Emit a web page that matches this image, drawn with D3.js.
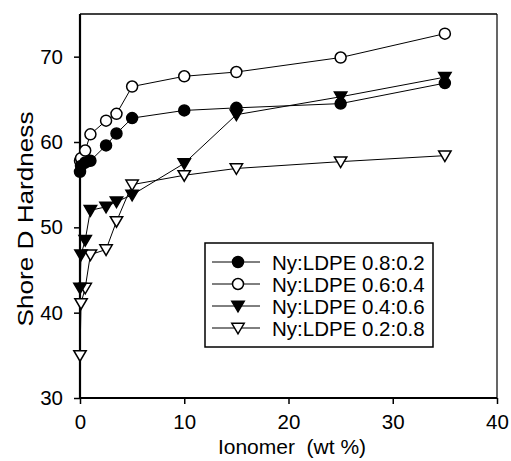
<!DOCTYPE html>
<html><head><meta charset="utf-8">
<script src="https://cdn.jsdelivr.net/npm/d3@7"></script>
<style>body{margin:0;background:#fff}svg{display:block}text{font-family:"Liberation Sans",Arial,sans-serif;fill:#000}</style>
</head><body><svg id="c" width="511" height="461"></svg>
<script>
const xVals = [0, 0.1, 0.5, 1, 2.5, 3.5, 5, 10, 15, 25, 35];
const s08 = [56.5, 57.2, 57.6, 57.8, 59.6, 61.0, 62.8, 63.7, 64.0, 64.5, 66.9];
const s06 = [57.8, 58.1, 59.0, 60.9, 62.5, 63.3, 66.5, 67.7, 68.2, 69.9, 72.7];
const s04 = [42.9, 46.8, 48.5, 52.0, 52.4, 53.0, 53.8, 57.5, 63.2, 65.3, 67.6];
const s02 = [35.0, 41.1, 42.9, 46.8, 47.4, 50.7, 55.0, 56.1, 56.9, 57.7, 58.4];
const seriesNames = ["Ny:LDPE 0.8:0.2", "Ny:LDPE 0.6:0.4", "Ny:LDPE 0.4:0.6", "Ny:LDPE 0.2:0.8"];
const markerTypes = ["circleFilled", "circleOpen", "triDownFilled", "triDownOpen"];
const xTicks = [0, 10, 20, 30, 40];
const yTicks = [30, 40, 50, 60, 70];

const svg = d3.select("#c");
const x = d3.scaleLinear().domain([0, 40]).range([80, 497]);
const y = d3.scaleLinear().domain([30, 75]).range([398, 14]);

// frame
svg.append("line").attr("x1", 80).attr("x2", 497).attr("y1", 14).attr("y2", 14).attr("stroke", "#000").attr("stroke-width", 1.5);
svg.append("line").attr("x1", 497).attr("x2", 497).attr("y1", 14).attr("y2", 398).attr("stroke", "#000").attr("stroke-width", 1.2);

const xa = svg.append("g").attr("transform", "translate(0,398)")
  .call(d3.axisBottom(x).tickValues(xTicks).tickSize(6).tickPadding(10));
const ya = svg.append("g").attr("transform", "translate(80,0)")
  .call(d3.axisLeft(y).tickValues(yTicks).tickSize(6).tickPadding(11));
[xa, ya].forEach(a => {
  a.select(".domain").attr("stroke-width", 2.2);
  a.selectAll(".tick line").attr("stroke-width", 1.5);
  a.selectAll("text").style("font-size", "20.5px").style("font-family", "Liberation Sans, Arial, sans-serif");
});
ya.select(".domain").attr("d", "M0,398V14");
xa.select(".domain").attr("d", "M80,0H497");

svg.append("text").attr("x", 292).attr("y", 454).attr("text-anchor", "middle")
  .style("font-size", "21px").attr("xml:space", "preserve").text("Ionomer  (wt %)");
svg.append("text").attr("transform", "translate(33,219) rotate(-90)").attr("text-anchor", "middle")
  .style("font-size", "21.5px").attr("textLength", 215).attr("lengthAdjust", "spacingAndGlyphs")
  .text("Shore D Hardness");

const allSeries = [s08, s06, s04, s02];
const line = d3.line().x(d => x(d[0])).y(d => y(d[1]));

function marker(g, type, cx, cy) {
  if (type.startsWith("circle")) {
    g.append("circle").attr("cx", cx).attr("cy", cy).attr("r", 5.5)
      .attr("fill", type === "circleFilled" ? "#000" : "#fff").attr("stroke", "#000").attr("stroke-width", 1.5);
  } else {
    const s = 6.2;
    g.append("path").attr("d", `M${cx - s},${cy - s * 0.75}L${cx + s},${cy - s * 0.75}L${cx},${cy + s * 0.95}Z`)
      .attr("fill", type === "triDownFilled" ? "#000" : "#fff").attr("stroke", "#000").attr("stroke-width", 1.5);
  }
}

allSeries.forEach((s, i) => {
  const pts = xVals.map((v, j) => [v, s[j]]);
  svg.append("path").attr("d", line(pts)).attr("fill", "none").attr("stroke", "#000").attr("stroke-width", 1);
});
[3, 2, 1, 0].forEach(i => {
  const g = svg.append("g");
  xVals.forEach((v, j) => marker(g, markerTypes[i], x(v), y(allSeries[i][j])));
});

// legend
const lg = svg.append("g");
lg.append("rect").attr("x", 205).attr("y", 243).attr("width", 228).attr("height", 104)
  .attr("fill", "#fff").attr("stroke", "#000").attr("stroke-width", 1.5);
seriesNames.forEach((n, i) => {
  const cy = 262 + i * 22;
  lg.append("line").attr("x1", 212).attr("x2", 260).attr("y1", cy).attr("y2", cy).attr("stroke", "#000").attr("stroke-width", 1);
  marker(lg, markerTypes[i], 238, cy);
  lg.append("text").attr("x", 272).attr("y", cy + 7.5).style("font-size", "20.5px").text(n);
});
</script></body></html>
